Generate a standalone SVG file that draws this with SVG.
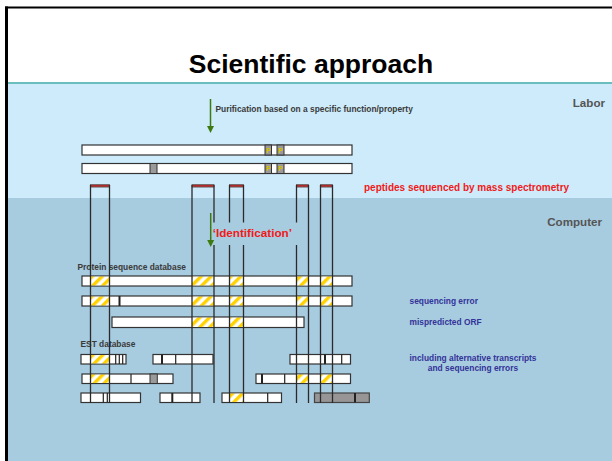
<svg xmlns="http://www.w3.org/2000/svg" width="612" height="461" viewBox="0 0 612 461">
<style>
text{font-family:"Liberation Sans",Arial,sans-serif;font-weight:bold}
.lbl{font-size:8.4px;fill:#3a3a3a}
.blue{font-size:8.4px;fill:#333399}
.red{fill:#f01a1a}
.side{font-size:11.6px;fill:#555}
.bar{fill:#fff;stroke:#333;stroke-width:1.2}
.gbar{fill:#979595;stroke:#444;stroke-width:1.2}
.hat{fill:url(#hatch)}
.gbox{fill:#9a9a9a;stroke:#333;stroke-width:1}
.div{stroke:#222;stroke-width:1.2}
.thk{stroke:#222;stroke-width:2}
.ln{stroke:#2a2a2a;stroke-width:1.3;fill:none}
.mk{fill:#b02a2a;stroke:#666;stroke-width:0.8}
.arr{stroke:#3d7a10;stroke-width:1.5;fill:none}
.p{font-size:7px;fill:#d8c000}
</style>
<defs>
<pattern id="hatch" patternUnits="userSpaceOnUse" width="7" height="7" patternTransform="rotate(45)">
<rect width="7" height="7" fill="#fff"/>
<rect width="3.4" height="7" fill="#ffd200"/>
</pattern>
<marker id="ah" viewBox="0 0 6 6" refX="3" refY="5.5" markerWidth="6" markerHeight="6" orient="auto-start-reverse" markerUnits="userSpaceOnUse">
<path d="M0,0 L6,0 L3,6 z" fill="#3d7a10" transform="rotate(-90 3 3)"/>
</marker>
</defs>

<g id="background">
<rect x="0" y="0" width="612" height="461" fill="#fff"/>
<rect x="7" y="84" width="605" height="114" fill="#cdebfb"/>
<rect x="7" y="198" width="605" height="263" fill="#a7cbdf"/>
<line x1="7" y1="83" x2="612" y2="83" stroke="#3aa8a8" stroke-width="1.5"/>
<line x1="5" y1="7.5" x2="612" y2="7.5" stroke="#000" stroke-width="2"/>
<line x1="6.5" y1="6.5" x2="6.5" y2="461" stroke="#000" stroke-width="3"/>
</g>

<g id="title"><text x="311" y="73" font-size="26.5" text-anchor="middle" fill="#000">Scientific approach</text></g>
<g id="labor"><text class="side" x="605" y="107" text-anchor="end">Labor</text></g>
<g id="computer"><text class="side" x="602" y="226" text-anchor="end">Computer</text></g>

<g id="purification">
<line class="arr" x1="210.5" y1="99" x2="210.5" y2="126"/>
<path d="M207,126 L214,126 L210.5,133 z" fill="#3d7a10"/>
<text class="lbl" x="215.5" y="111.5">Purification based on a specific function/property</text>
</g>

<g id="lab-protein-1">
<rect class="bar" x="82" y="145" width="270" height="10"/>
<rect class="gbox" x="265" y="145" width="6.5" height="10"/>
<rect class="gbox" x="277" y="145" width="7" height="10"/>
<text class="p" x="266" y="152.5">P</text><text class="p" x="278.3" y="152.5">P</text>
</g>
<g id="lab-protein-2">
<rect class="bar" x="82" y="163.5" width="270" height="10"/>
<rect class="gbox" x="150" y="163.5" width="7" height="10"/>
<rect class="gbox" x="265" y="163.5" width="6.5" height="10"/>
<rect class="gbox" x="277" y="163.5" width="7" height="10"/>
<text class="p" x="266" y="171">P</text><text class="p" x="278.3" y="171">P</text>
</g>

<g id="peptides">
<rect class="mk" x="90.5" y="184.5" width="19" height="2.6"/>
<rect class="mk" x="192" y="184.5" width="22" height="2.6"/>
<rect class="mk" x="229.5" y="184.5" width="14" height="2.6"/>
<rect class="mk" x="296.5" y="184.5" width="12" height="2.6"/>
<rect class="mk" x="320.5" y="184.5" width="12" height="2.6"/>
<text class="red" x="364" y="191" font-size="10">peptides sequenced by mass spectrometry</text>
</g>

<g id="protein-db">
<text class="lbl" x="77.5" y="270">Protein sequence database</text>
<rect class="bar" x="82" y="276" width="270" height="10"/>
<rect class="hat" x="90.5" y="276.6" width="19" height="8.8"/>
<rect class="hat" x="192" y="276.6" width="22" height="8.8"/>
<rect class="hat" x="229.5" y="276.6" width="14" height="8.8"/>
<rect class="hat" x="296.5" y="276.6" width="12" height="8.8"/>
<rect class="hat" x="320.5" y="276.6" width="12" height="8.8"/>
<rect class="bar" x="82" y="296" width="270" height="10"/>
<rect class="hat" x="90.5" y="296.6" width="19" height="8.8"/>
<rect class="hat" x="192" y="296.6" width="22" height="8.8"/>
<rect class="hat" x="229.5" y="296.6" width="14" height="8.8"/>
<rect class="hat" x="296.5" y="296.6" width="12" height="8.8"/>
<rect class="hat" x="320.5" y="296.6" width="12" height="8.8"/>
<line class="thk" x1="119.5" y1="296" x2="119.5" y2="306"/>
<rect class="bar" x="112" y="317" width="192" height="10.5"/>
<rect class="hat" x="192" y="317.6" width="22" height="9.3"/>
<rect class="hat" x="229.5" y="317.6" width="14" height="9.3"/>
</g>

<g id="est-db">
<text class="lbl" x="80.5" y="347">EST database</text>
<rect class="bar" x="81" y="354.5" width="45" height="9.5"/>
<rect class="hat" x="90.5" y="355.1" width="19" height="8.3"/>
<line class="div" x1="115.7" y1="354.5" x2="115.7" y2="364"/>
<line class="div" x1="119.3" y1="354.5" x2="119.3" y2="364"/>
<line class="div" x1="122.7" y1="354.5" x2="122.7" y2="364"/>
<rect class="bar" x="153" y="354.5" width="60" height="9.5"/>
<line class="thk" x1="162" y1="354.5" x2="162" y2="364"/>
<line class="div" x1="175.7" y1="354.5" x2="175.7" y2="364"/>
<rect class="bar" x="290" y="354.5" width="60.5" height="9.5"/>
<line class="thk" x1="325" y1="354.5" x2="325" y2="364"/>
<line class="div" x1="341.7" y1="354.5" x2="341.7" y2="364"/>

<rect class="bar" x="82" y="374" width="91" height="9.5"/>
<rect class="hat" x="90.5" y="374.6" width="19" height="8.3"/>
<line class="div" x1="131" y1="374" x2="131" y2="383.5"/>
<rect class="gbox" x="150" y="374" width="7.3" height="9.5"/>
<rect class="bar" x="256" y="374" width="94.5" height="9.5"/>
<line class="thk" x1="262" y1="374" x2="262" y2="383.5"/>
<line class="div" x1="284.7" y1="374" x2="284.7" y2="383.5"/>
<rect class="hat" x="296.5" y="374.6" width="12" height="8.3"/>
<rect class="hat" x="320.5" y="374.6" width="12" height="8.3"/>

<rect class="bar" x="81" y="393" width="59.5" height="9.5"/>
<line class="div" x1="103.3" y1="393" x2="103.3" y2="402.5"/>
<line class="div" x1="107.3" y1="393" x2="107.3" y2="402.5"/>
<rect class="bar" x="160" y="393" width="40" height="9.5"/>
<line class="thk" x1="172.3" y1="393" x2="172.3" y2="402.5"/>
<rect class="bar" x="222" y="393" width="59.5" height="9.5"/>
<rect class="hat" x="229.5" y="393.6" width="14" height="8.3"/>
<line class="div" x1="267.7" y1="393" x2="267.7" y2="402.5"/>
<rect class="gbar" x="314.5" y="393" width="54.8" height="9.5"/>
<line class="thk" x1="355" y1="393" x2="355" y2="402.5"/>
</g>

<g id="connectors">
<line class="ln" x1="90.5" y1="185" x2="90.5" y2="403"/>
<line class="ln" x1="109.5" y1="185" x2="109.5" y2="403"/>
<line class="ln" x1="192" y1="185" x2="192" y2="403"/>
<line class="ln" x1="214" y1="185" x2="214" y2="403"/>
<line class="ln" x1="229.5" y1="185" x2="229.5" y2="403"/>
<line class="ln" x1="243.5" y1="185" x2="243.5" y2="403"/>
<line class="ln" x1="296.5" y1="185" x2="296.5" y2="403"/>
<line class="ln" x1="308.5" y1="185" x2="308.5" y2="403"/>
<line class="ln" x1="320.5" y1="185" x2="320.5" y2="403"/>
<line class="ln" x1="332.5" y1="185" x2="332.5" y2="403"/>
</g>

<g id="identification">
<rect x="212" y="222.5" width="86" height="22.5" fill="#a7cbdf"/>
<line class="arr" x1="210.7" y1="213" x2="210.7" y2="240"/>
<path d="M207.2,240 L214.2,240 L210.7,247 z" fill="#3d7a10"/>
<text class="red" x="212.7" y="237" font-size="11.7">‘Identification’</text>
</g>

<g id="annotations">
<text class="blue" x="409.5" y="303.5">sequencing error</text>
<text class="blue" x="409.5" y="324.5">mispredicted ORF</text>
<text class="blue" x="473" y="361" text-anchor="middle">including alternative transcripts</text>
<text class="blue" x="473" y="371" text-anchor="middle">and sequencing errors</text>
</g>
</svg>
